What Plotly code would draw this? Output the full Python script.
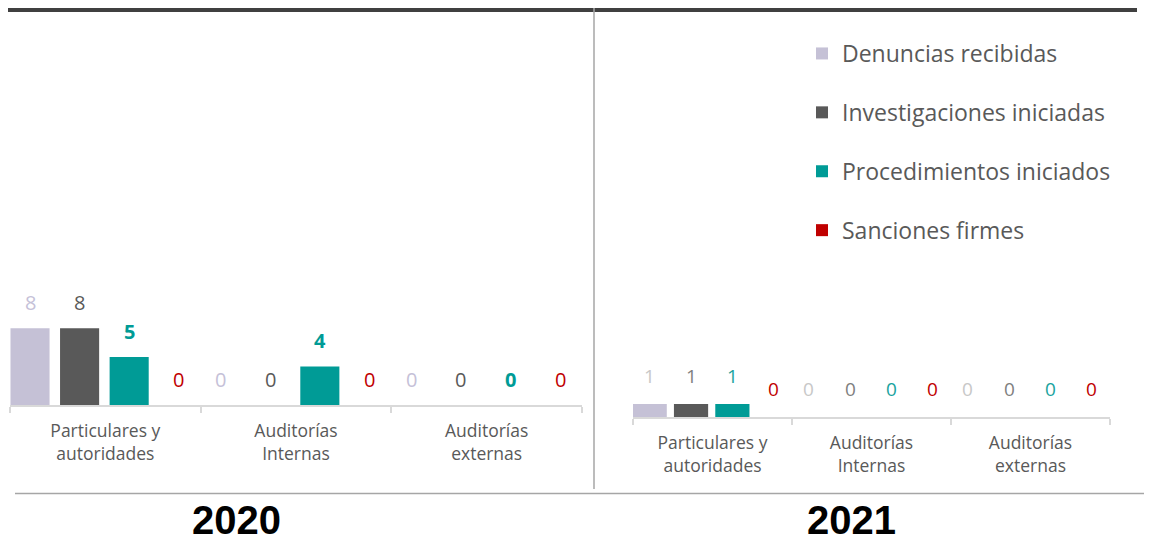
import plotly.graph_objects as go

# ---- data ----
categories = ["Particulares y<br>autoridades", "Auditorías<br>Internas", "Auditorías<br>externas"]
series = ["Denuncias recibidas", "Investigaciones iniciadas", "Procedimientos iniciados", "Sanciones firmes"]
values_2020 = {
    "Denuncias recibidas": [8, 0, 0],
    "Investigaciones iniciadas": [8, 0, 0],
    "Procedimientos iniciados": [5, 4, 0],
    "Sanciones firmes": [0, 0, 0],
}
values_2021 = {
    "Denuncias recibidas": [1, 0, 0],
    "Investigaciones iniciadas": [1, 0, 0],
    "Procedimientos iniciados": [1, 0, 0],
    "Sanciones firmes": [0, 0, 0],
}
years = ["2020", "2021"]

# ---- styles ----
bar_colors = ["#c5c1d6", "#595959", "#009b96", "#c00000"]
label_colors_2020 = ["#c5c1d8", "#595959", "#009b96", "#c00000"]
label_bold_2020 = [False, False, True, False]
label_colors_2021 = ["#c8c8c8", "#7f7f7f", "#1aa39e", "#c00000"]
label_bold_2021 = [False, False, False, False]
centers = [-0.395, -0.135, 0.125, 0.385]
FONT = "'Open Sans', Lato, sans-serif"

# page body has an 8px margin; the figure fills the rest of the window
OFF = 8
W, H = 1152 - OFF, 544 - OFF


def px(x):
    return (x - OFF) / W


def py(y):
    return (H - (y - OFF)) / H


fig = go.Figure()

panels = [
    dict(vals=values_2020, xa="x", ya="y", w=0.205, lc=label_colors_2020, lb=label_bold_2020,
         fs=20, yshift=26, legend=True),
    dict(vals=values_2021, xa="x2", ya="y2", w=0.215, lc=label_colors_2021, lb=label_bold_2021,
         fs=19, yshift=28, legend=False),
]

annotations = []
for p in panels:
    for k, s in enumerate(series):
        fig.add_trace(go.Bar(
            x=categories, y=p["vals"][s], name=s,
            marker=dict(color=bar_colors[k], line=dict(width=0)),
            width=p["w"], offset=centers[k] - p["w"] / 2,
            xaxis=p["xa"], yaxis=p["ya"],
            legendgroup=s, showlegend=p["legend"],
            hoverinfo="skip",
        ))
        for i, v in enumerate(p["vals"][s]):
            txt = f"<b>{v}</b>" if p["lb"][k] else str(v)
            annotations.append(dict(
                x=i + centers[k], y=v, xref=p["xa"], yref=p["ya"],
                text=txt, showarrow=False, yanchor="middle", xanchor="center",
                yshift=p["yshift"],
                font=dict(family=FONT, size=p["fs"], color=p["lc"][k]),
            ))

# year titles
for yr, xc in zip(years, [236, 851]):
    annotations.append(dict(
        x=px(xc), y=0, xref="paper", yref="paper", text=f"<b>{yr}</b>",
        showarrow=False, xanchor="center", yanchor="bottom",
        font=dict(family="'Liberation Sans', Arial, sans-serif", size=40, color="#000000"),
    ))

shapes = [
    dict(type="line", xref="paper", yref="paper", x0=px(8), x1=px(1137), y0=py(10), y1=py(10),
         line=dict(color="#404040", width=4)),
    dict(type="line", xref="paper", yref="paper", x0=px(594), x1=px(594), y0=py(8), y1=py(489),
         line=dict(color="#a6a6a6", width=1.5)),
    dict(type="line", xref="paper", yref="paper", x0=px(15), x1=1, y0=py(493.5), y1=py(493.5),
         line=dict(color="#a6a6a6", width=1.5)),
]

xaxis_common = dict(
    type="category", tickson="boundaries", ticks="outside", ticklen=6, tickwidth=1.5,
    tickcolor="#d9d9d9", showline=True, linecolor="#d9d9d9", linewidth=2,
    showgrid=False, zeroline=False, fixedrange=True,
    tickfont=dict(family=FONT, size=17.5, color="#595959"),
    ticklabelstandoff=9,
    range=[-0.5, 2.5],
)
yaxis_common = dict(visible=False, showgrid=False, zeroline=False, fixedrange=True)

fig.update_layout(
    width=W, height=H,
    margin=dict(l=0, r=0, t=0, b=0),
    paper_bgcolor="white", plot_bgcolor="white",
    barmode="overlay",
    xaxis=dict(domain=[px(10), px(582)], anchor="y", **xaxis_common),
    yaxis=dict(domain=[py(405), py(21)], range=[0, 40], anchor="x", **yaxis_common),
    xaxis2=dict(domain=[px(633), px(1110)], anchor="y2", **xaxis_common),
    yaxis2=dict(domain=[py(417), py(27)], range=[0, 30], anchor="x2", **yaxis_common),
    legend=dict(
        x=px(802), y=py(32), xanchor="left", yanchor="top",
        traceorder="grouped", tracegroupgap=26,
        font=dict(family=FONT, size=23, color="#595959"),
        bgcolor="rgba(0,0,0,0)",
    ),
    annotations=annotations,
    shapes=shapes,
    showlegend=True,
)

fig.write_html("out.html")
